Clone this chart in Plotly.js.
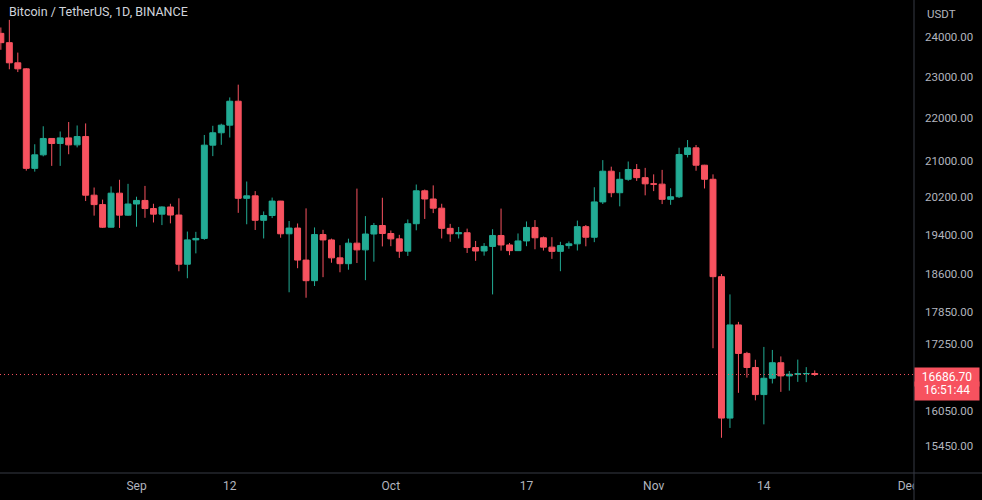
<!DOCTYPE html>
<html>
<head>
<meta charset="utf-8">
<script src="https://cdn.plot.ly/plotly-3.0.1.min.js"></script>
<style>
html,body{margin:0;padding:0;background:#000;}
#chart{width:982px;height:500px;}
</style>
</head>
<body>
<div id="chart"></div>
<script>
// ---------- DATA (BTC/USDT daily) ----------
const dates = [
 '2022-08-16','2022-08-17','2022-08-18','2022-08-19','2022-08-20','2022-08-21','2022-08-22','2022-08-23',
 '2022-08-24','2022-08-25','2022-08-26','2022-08-27','2022-08-28','2022-08-29','2022-08-30','2022-08-31',
 '2022-09-01','2022-09-02','2022-09-03','2022-09-04','2022-09-05','2022-09-06','2022-09-07','2022-09-08',
 '2022-09-09','2022-09-10','2022-09-11','2022-09-12','2022-09-13','2022-09-14','2022-09-15','2022-09-16',
 '2022-09-17','2022-09-18','2022-09-19','2022-09-20','2022-09-21','2022-09-22','2022-09-23','2022-09-24',
 '2022-09-25','2022-09-26','2022-09-27','2022-09-28','2022-09-29','2022-09-30',
 '2022-10-01','2022-10-02','2022-10-03','2022-10-04','2022-10-05','2022-10-06','2022-10-07','2022-10-08',
 '2022-10-09','2022-10-10','2022-10-11','2022-10-12','2022-10-13','2022-10-14','2022-10-15','2022-10-16',
 '2022-10-17','2022-10-18','2022-10-19','2022-10-20','2022-10-21','2022-10-22','2022-10-23','2022-10-24',
 '2022-10-25','2022-10-26','2022-10-27','2022-10-28','2022-10-29','2022-10-30','2022-10-31',
 '2022-11-01','2022-11-02','2022-11-03','2022-11-04','2022-11-05','2022-11-06','2022-11-07','2022-11-08',
 '2022-11-09','2022-11-10','2022-11-11','2022-11-12','2022-11-13','2022-11-14','2022-11-15','2022-11-16',
 '2022-11-17','2022-11-18','2022-11-19','2022-11-20'
];
const openPrices = [
 24094,23854,23342,23191,20834,21140,21516,21400,21529,21368,21560,20241,20037,19555,20285,19811,
 20050,20127,19952,19832,19986,19813,18791,19290,19320,21361,21648,21826,22396,20173,20227,19701,19803,20113,19417,19537,18875,18461,19401,19289,18920,18802,19222,19084,19412,19591,
 19423,19311,19057,19629,20337,20158,19960,19531,19417,19439,19131,19060,19155,19382,19185,19068,19268,19550,19334,19140,19053,19172,19208,19567,19345,20095,20771,20295,20591,20809,20627,
 20490,20483,20151,20207,21148,21300,20905,20591,18541,15922,17602,17070,16813,16330,16620,16900,16662,16692,16700,16705
];
const highPrices = [
 24247,24446,23600,23208,21382,21800,21522,21678,21900,21819,21867,20409,20145,20433,20580,20490,
 20208,20444,20055,20000,20055,20173,19464,19458,21597,21811,21860,22488,22799,20541,20330,19890,20189,20117,19686,19634,19956,19550,19500,19316,19180,19315,20385,19790,19645,20185,
 19486,19395,19719,20475,20365,20456,20055,19625,19560,19525,19268,19224,19513,19951,19226,19424,19676,19706,19360,19346,19250,19257,19695,19601,20415,21020,20872,20750,20988,20931,20845,
 20700,20800,20393,21302,21480,21365,20914,20700,18594,18190,17660,17099,16954,17190,17134,17015,16750,16957,16820,16760
];
const lowPrices = [
 23671,23180,23111,20783,20761,21105,20890,20890,21154,21310,20114,19800,19540,19550,19540,19797,
 19565,19754,19655,19600,19636,18649,18510,19012,19291,21111,21369,21538,19860,19617,19497,19320,19748,19335,18232,18711,18125,18356,18531,18821,18629,18680,18816,18471,18843,19155,
 19160,18920,18960,19490,19730,19854,19320,19250,19320,19020,18860,18965,18190,19068,18975,19063,19160,19096,19070,18900,18650,19108,19071,19157,19243,20050,20197,20000,20557,20555,20238,
 20330,20048,20032,20180,21081,20781,20388,17166,15588,15754,16361,16631,16229,15815,16527,16378,16400,16555,16550,16660
];
const closePrices = [
 23854,23342,23191,20834,21140,21516,21400,21529,21368,21560,20241,20037,19555,20285,19811,20050,
 20127,19952,19832,19986,19813,18791,19290,19320,21361,21648,21826,22396,20173,20227,19701,19803,20113,19417,19537,18875,18461,19401,19289,18920,18802,19222,19084,19412,19591,19423,
 19311,19057,19629,20337,20158,19960,19531,19417,19439,19131,19060,19155,19382,19185,19068,19268,19550,19334,19140,19053,19172,19208,19567,19345,20095,20771,20295,20591,20809,20627,20490,
 20483,20151,20207,21148,21300,20905,20591,18541,15922,17602,17070,16813,16330,16620,16900,16662,16692,16700,16705,16686.7
];
const priceTicks = [15450,16050,17250,17850,18600,19400,20200,21000,22000,23000,24000];
const timeTickDates = ['2022-09-01','2022-09-12','2022-10-01','2022-10-17','2022-11-01','2022-11-14','2022-12-01'];
const timeTickLabels = ['Sep','12','Oct','17','Nov','14','Dec'];
const titleText = 'Bitcoin / TetherUS, 1D, BINANCE';
const currencyText = 'USDT';
const countdownText = '16:51:44';

// ---------- STYLE / LAYOUT ----------
const UP = '#22ab94', DOWN = '#f7525f';
const TXT = '#b2b5be', SEP = '#363a45';
const FONT = 'Roboto, "Open Sans", sans-serif';
const W = 982, H = 500, R = 68, B = 27;
const plotW = W - R, plotH = H - B;
const DAY = 86400000;
const anchorMs = Date.UTC(2022, 8, 1);
const anchorPx = 136.5, pxPerDay = 8.478;
function iso(ms){ return new Date(ms).toISOString().replace('T',' ').replace('Z',''); }
const xStart = iso(anchorMs - anchorPx / pxPerDay * DAY);
const xEnd = iso(anchorMs + (plotW - anchorPx) / pxPerDay * DAY);
const yRange = [4.17632, 4.39751];
const lastPrice = closePrices[closePrices.length - 1];

const candles = {
  type: 'candlestick',
  x: dates, open: openPrices, high: highPrices, low: lowPrices, close: closePrices,
  increasing: {line: {color: UP, width: 1}, fillcolor: UP},
  decreasing: {line: {color: DOWN, width: 1}, fillcolor: DOWN},
  whiskerwidth: 0,
  hoverinfo: 'skip',
  showlegend: false
};
const priceLine = {
  type: 'scatter', mode: 'lines',
  x: [xStart, xEnd], y: [lastPrice, lastPrice],
  line: {color: DOWN, width: 1, dash: '1px,3px'},
  hoverinfo: 'skip', showlegend: false
};

const pyBottom = -B / plotH;
const pxRight = W / plotW;

const layout = {
  width: W, height: H,
  margin: {l: 0, r: R, t: 0, b: B, pad: 0},
  paper_bgcolor: '#000000', plot_bgcolor: '#000000',
  showlegend: false,
  boxgap: 0.3, boxgroupgap: 0,
  font: {family: FONT, color: TXT, size: 12},
  xaxis: {
    type: 'date', range: [xStart, xEnd], automargin: false,
    rangeslider: {visible: false},
    showgrid: false, zeroline: false, showline: false, ticks: '',
    tickmode: 'array', tickvals: timeTickDates, ticktext: timeTickLabels,
    tickfont: {family: FONT, color: TXT, size: 12},
    ticklabelstandoff: 4, fixedrange: true
  },
  yaxis: {
    type: 'log', range: yRange, side: 'right', automargin: false,
    showgrid: false, zeroline: false, showline: false, ticks: '',
    tickmode: 'array', tickvals: priceTicks, ticktext: priceTicks.map(v => v.toFixed(2)),
    tickfont: {family: FONT, color: TXT, size: 11.5},
    ticklabelstandoff: 10, fixedrange: true
  },
  shapes: [
    {type: 'rect', xref: 'paper', yref: 'paper', x0: 1, x1: pxRight, y0: pyBottom, y1: 0,
     fillcolor: '#000000', line: {width: 0}, layer: 'above'},
    {type: 'line', xref: 'paper', yref: 'paper', x0: 1, x1: 1, y0: pyBottom, y1: 1,
     line: {color: SEP, width: 1}, layer: 'above'},
    {type: 'line', xref: 'paper', yref: 'paper', x0: 0, x1: pxRight, y0: 0, y1: 0,
     line: {color: SEP, width: 1}, layer: 'above'}
  ],
  annotations: [
    {text: titleText, xref: 'paper', yref: 'paper', x: 7 / plotW, y: 1 - 12 / plotH,
     xanchor: 'left', yanchor: 'middle', showarrow: false,
     font: {family: FONT, color: '#d1d4dc', size: 12.5}},
    {text: currencyText, xref: 'paper', yref: 'paper', x: 1 + 11 / plotW, y: 1 - 14 / plotH,
     xanchor: 'left', yanchor: 'middle', showarrow: false,
     font: {family: FONT, color: TXT, size: 11.5}},
    {text: lastPrice.toFixed(2), xref: 'paper', yref: 'y', x: 1, y: Math.log10(lastPrice),
     xanchor: 'left', yanchor: 'top', yshift: 7.5, showarrow: false,
     width: 62, height: 16, borderpad: 1, bgcolor: DOWN, align: 'center', valign: 'middle',
     font: {family: FONT, color: '#ffffff', size: 12}},
    {text: countdownText, xref: 'paper', yref: 'y', x: 1, y: Math.log10(lastPrice),
     xanchor: 'left', yanchor: 'top', yshift: -6, showarrow: false,
     width: 62, height: 16, borderpad: 1, bgcolor: DOWN, align: 'center', valign: 'top',
     font: {family: FONT, color: '#ffffff', size: 12}}
  ]
};

Plotly.newPlot('chart', [candles, priceLine], layout, {staticPlot: true, displayModeBar: false});
</script>
</body>
</html>
